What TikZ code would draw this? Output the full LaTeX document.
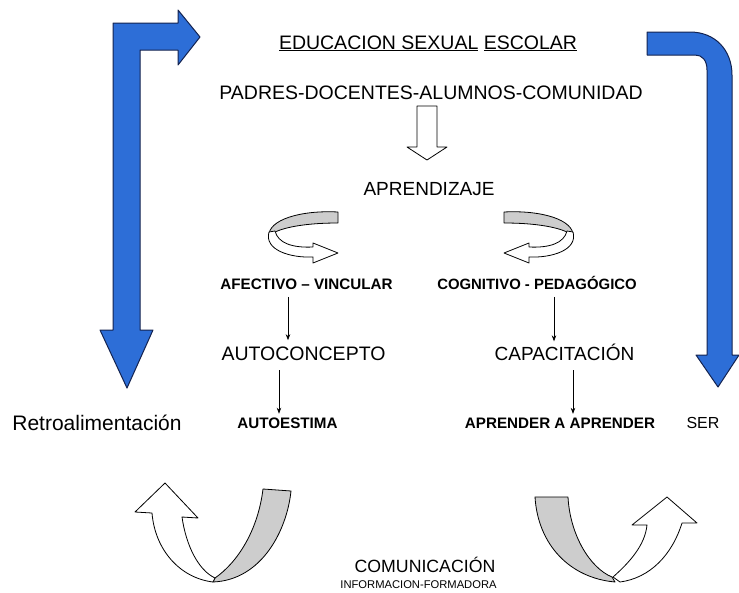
\documentclass[tikz,border=0pt]{standalone}
\usepackage{fontspec}
\setmainfont{Liberation Sans}
\usetikzlibrary{arrows.meta}
\definecolor{bluefill}{RGB}{45,110,215}
\definecolor{blueedge}{RGB}{20,35,80}
\definecolor{ribbon}{RGB}{205,205,205}
\begin{document}
\begin{tikzpicture}[x=1pt,y=-1pt,
  bigtxt/.style={font=\fontsize{19.5}{22}\selectfont, anchor=base, inner sep=2pt},
  boldtxt/.style={font=\bfseries\fontsize{15.2}{18}\selectfont, anchor=base, inner sep=2pt},
  bluearrow/.style={fill=bluefill, draw=blueedge, line width=1pt, line join=round},
  thinarrow/.style={-{Stealth[length=6pt,width=4.5pt]}, line width=0.7pt},
  hollow/.style={fill=white, draw=black, line width=0.8pt, line join=round},
  ribbonback/.style={fill=ribbon, draw=black, line width=0.8pt, line join=round}]
\useasboundingbox (0,0) rectangle (739,592);
\fill[white] (0,0) rectangle (739,592);

% texts
\node[bigtxt] (titulo) at (428,49) {\underline{EDUCACION SEXUAL} \underline{ESCOLAR}};
\node[bigtxt] (padres) at (431,99) {PADRES-DOCENTES-ALUMNOS-COMUNIDAD};
\node[bigtxt, font=\fontsize{19}{22}\selectfont] (aprendizaje) at (429,195) {APRENDIZAJE};
\node[boldtxt] (afectivo) at (306.5,289.5) {AFECTIVO – VINCULAR};
\node[boldtxt, font=\bfseries\fontsize{14.9}{18}\selectfont] (cognitivo) at (537,289.5) {COGNITIVO - PEDAGÓGICO};
\node[bigtxt] (autoconcepto) at (303.5,360) {AUTOCONCEPTO};
\node[bigtxt, font=\fontsize{19}{22}\selectfont] (capacitacion) at (564.5,360) {CAPACITACIÓN};
\node[boldtxt] (autoestima) at (287.5,428.5) {AUTOESTIMA};
\node[boldtxt] (aprender) at (560,428.5) {APRENDER A APRENDER};
\node[bigtxt, font=\fontsize{21}{24}\selectfont] (retro) at (97,430) {Retroalimentación};
\node[bigtxt, font=\fontsize{16}{19}\selectfont] (ser) at (703,428) {SER};
\node[bigtxt, font=\fontsize{17.7}{20}\selectfont] (comunicacion) at (425,572) {COMUNICACIÓN};
\node[bigtxt, font=\fontsize{11.2}{13}\selectfont] (informacion) at (418.5,588) {INFORMACION-FORMADORA};

% thin connectors
\draw[thinarrow] ([xshift=-18.5pt,yshift=-5pt]afectivo.south) -- ([xshift=-15.5pt,yshift=4pt]autoconcepto.north);
\draw[thinarrow] ([xshift=-24.5pt,yshift=-8pt]autoconcepto.south) -- ([xshift=-8.5pt,yshift=2pt]autoestima.north);
\draw[thinarrow] ([xshift=17pt,yshift=-5pt]cognitivo.south) -- ([xshift=-10.5pt]capacitacion.north);
\draw[thinarrow] ([xshift=8.5pt,yshift=-8pt]capacitacion.south) -- ([xshift=13pt,yshift=2pt]aprender.north);

% hollow block arrow
\draw[hollow] (417,106) -- (437,106) -- (437,147) -- (447,147) -- (427,160) -- (407,147) -- (417,147) -- cycle;

% left ring arrow
\filldraw[ribbonback] (338,212) .. controls (300,210) and (268,220) .. (269,236) .. controls (276,229) and (300,223) .. (338,223) -- cycle;
\filldraw[hollow] (269,232) .. controls (264,250) and (290,258) .. (313,257) -- (313,263) -- (338,253) -- (313,243) -- (313,247) .. controls (292,248) and (278,243) .. (275,231) -- cycle;

% right ring arrow (mirror)
\begin{scope}[xshift=842pt, xscale=-1]
\filldraw[ribbonback] (338,212) .. controls (300,210) and (268,220) .. (269,236) .. controls (276,229) and (300,223) .. (338,223) -- cycle;
\filldraw[hollow] (269,232) .. controls (264,250) and (290,258) .. (313,257) -- (313,263) -- (338,253) -- (313,243) -- (313,247) .. controls (292,248) and (278,243) .. (275,231) -- cycle;
\end{scope}

% blue arrows
\filldraw[bluearrow] (113,23) -- (178,23) -- (178,10) -- (200,37) -- (178,65) -- (178,50) -- (140,50) -- (140,330) -- (153,330) -- (127,388) -- (100,330) -- (113,330) -- cycle;
\filldraw[bluearrow] (647,32) -- (690,32) .. controls (715,32) and (732,50) .. (732,75) -- (732,355) -- (739,355) -- (718,387) -- (696,355) -- (707,355) -- (707,70) .. controls (707,60) and (702,55) .. (695,55) -- (647,55) -- cycle;

% bottom left U arrow
\filldraw[ribbonback] (263,489) -- (291,491) .. controls (287,530) and (262,580) .. (213,582) -- (215,578) .. controls (238,562) and (258,530) .. (263,489) -- cycle;
\filldraw[hollow] (165,483) -- (198,518) -- (182,517) .. controls (186,545) and (198,570) .. (215,578) -- (213,582) .. controls (180,578) and (155,550) .. (152,513) -- (135,512) -- cycle;

% bottom right U arrow
\filldraw[ribbonback] (535,497) -- (568,497) .. controls (570,535) and (590,568) .. (612,577) -- (615,582) .. controls (570,578) and (538,545) .. (535,497) -- cycle;
\filldraw[hollow] (667,497) -- (697,523) -- (682,523) .. controls (672,555) and (650,578) .. (620,582) -- (613,577) .. controls (630,562) and (645,545) .. (647,525) -- (632,525) -- cycle;
\end{tikzpicture}
\end{document}
